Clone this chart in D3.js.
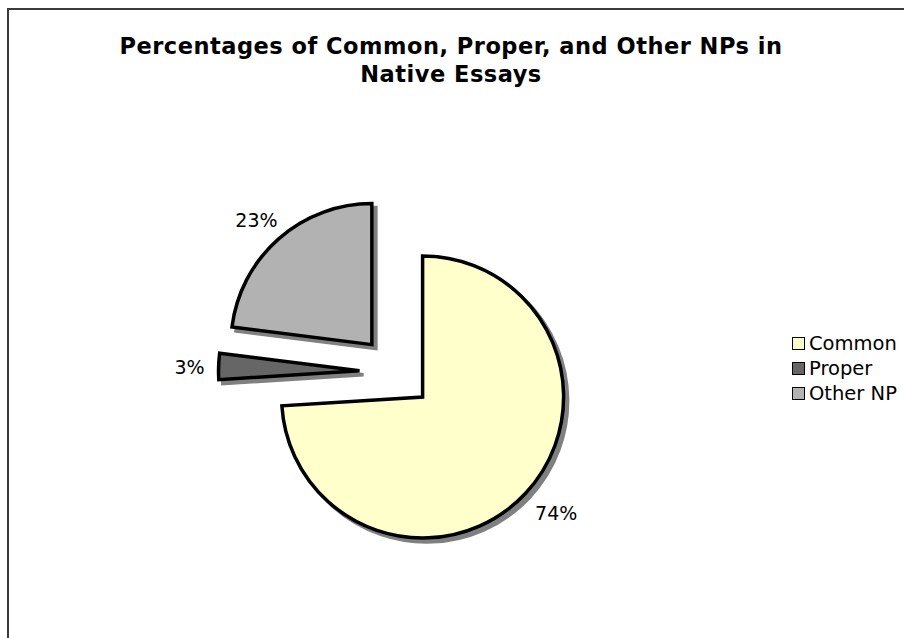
<!DOCTYPE html>
<html>
<head>
<meta charset="utf-8">
<script src="https://cdn.jsdelivr.net/npm/d3@7"></script>
<style>
  html, body { margin: 0; padding: 0; background: #fff; }
  svg { display: block; }
</style>
</head>
<body>
<svg id="chart" width="904" height="638"></svg>
<script>
// Share of noun-phrase types in native essays
const categories = ["Common", "Proper", "Other NP"];
const values = [74, 3, 23];
const sliceColors = ["#FFFFCC", "#666666", "#B2B2B2"];
const titleLines = ["Percentages of Common, Proper, and Other NPs in", "Native Essays"];

const W = 904, H = 638;
const svg = d3.select("#chart");

svg.append("rect").attr("width", W).attr("height", H).attr("fill", "#fff");

// chart frame (continues past the right and bottom edges)
svg.append("rect")
  .attr("x", 8).attr("y", 9)
  .attr("width", W + 20).attr("height", H + 20)
  .attr("fill", "none")
  .attr("stroke", "#3a3a3a")
  .attr("stroke-width", 2);

// title
const title = svg.append("text")
  .attr("text-anchor", "middle")
  .attr("font-family", "'DejaVu Sans', sans-serif")
  .attr("font-weight", "bold")
  .attr("font-size", 22.5)
  .attr("letter-spacing", 0.5)
  .attr("fill", "#000");
titleLines.forEach((t, i) => {
  title.append("tspan").attr("x", 451).attr("y", 54 + i * 28).text(t);
});

// pie
const cx = 396, cy = 372, radius = 141, explode = 36.5, labelR = 158;
const data = categories.map((c, i) => ({ name: c, value: values[i], color: sliceColors[i] }));
const pie = d3.pie().value(d => d.value).sort(null);
const arcs = pie(data);
const arc = d3.arc().innerRadius(0).outerRadius(radius);

const g = svg.append("g").attr("transform", `translate(${cx},${cy})`);

function dir(d) {
  const a = (d.startAngle + d.endAngle) / 2;
  return [Math.sin(a), -Math.cos(a)];
}

// shadows
g.selectAll("path.shadow")
  .data(arcs)
  .join("path")
  .attr("class", "shadow")
  .attr("d", arc)
  .attr("fill", "#808080")
  .attr("stroke", "#808080")
  .attr("stroke-width", 3.5)
  .attr("transform", d => {
    const [ux, uy] = dir(d);
    return `translate(${ux * explode + 4},${uy * explode + 4})`;
  });

// slices
g.selectAll("path.slice")
  .data(arcs)
  .join("path")
  .attr("class", "slice")
  .attr("d", arc)
  .attr("fill", d => d.data.color)
  .attr("stroke", "#000")
  .attr("stroke-width", 3.5)
  .attr("transform", d => {
    const [ux, uy] = dir(d);
    return `translate(${ux * explode},${uy * explode})`;
  });

// percentage labels, boxed outside each slice along its mid-angle
const labelSize = 19;
g.selectAll("text.pct")
  .data(arcs)
  .join("text")
  .attr("class", "pct")
  .attr("text-anchor", "middle")
  .attr("dominant-baseline", "central")
  .attr("font-family", "'DejaVu Sans', sans-serif")
  .attr("font-size", labelSize)
  .attr("fill", "#000")
  .text(d => d.data.value + "%")
  .each(function(d) {
    const [ux, uy] = dir(d);
    const w = this.getComputedTextLength();
    const x = ux * (explode + labelR) + ux * w / 2 + 3;
    const y = uy * (explode + labelR) + uy * labelSize / 2 + 1;
    d3.select(this).attr("x", x).attr("y", y);
  });

// legend
const legend = svg.append("g").attr("transform", "translate(792,343)");
const rows = legend.selectAll("g")
  .data(data)
  .join("g")
  .attr("transform", (d, i) => `translate(0,${i * 25})`);
rows.append("rect")
  .attr("x", 0.5).attr("y", -5.5)
  .attr("width", 12).attr("height", 12)
  .attr("fill", d => d.color)
  .attr("stroke", "#000")
  .attr("stroke-width", 1);
rows.append("text")
  .attr("x", 17)
  .attr("dominant-baseline", "central")
  .attr("font-family", "'DejaVu Sans', sans-serif")
  .attr("font-size", 19.5)
  .attr("fill", "#000")
  .text(d => d.name);
</script>
</body>
</html>
